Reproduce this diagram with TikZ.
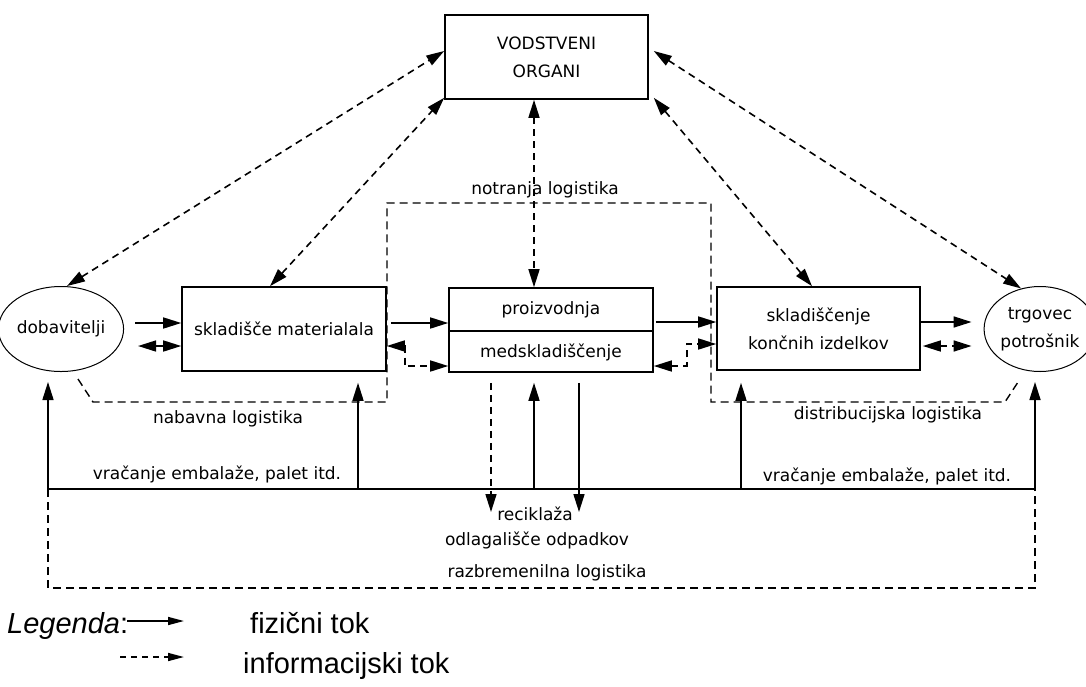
\documentclass[tikz,border=0pt]{standalone}
\usepackage{fontspec}
\setmainfont{DejaVu Sans}
\newfontfamily\legfont{Liberation Sans}
\usetikzlibrary{arrows.meta,shapes.geometric}

\begin{document}
\begin{tikzpicture}[
    x=1pt, y=-1pt,
    >={Triangle[length=18pt,width=11pt]},
    font=\fontsize{17}{28}\selectfont,
    box/.style={rectangle, draw, line width=1.6pt, inner sep=0pt, align=center},
    oval/.style={ellipse, draw, line width=1pt, inner sep=0pt, align=center},
    phys/.style={->, line width=1.6pt},
    info/.style={line width=1.6pt, dash pattern=on 7pt off 5pt},
    zone/.style={line width=1.4pt, dash pattern=on 8pt off 5pt},
    lbl/.style={inner sep=1pt},
    leg/.style={inner sep=0pt, anchor=base west, font=\legfont\fontsize{29}{34}\selectfont},
    legarr/.style={-{Triangle[length=16pt,width=8pt]}, line width=1.6pt}
]
\useasboundingbox (0,0) rectangle (1086,686);

% ---- Nodes (absolute positions, pt) ----
\node[box, minimum width=203pt, minimum height=84pt] (vo)    at (546.5,57)    {VODSTVENI\\ORGANI};
\node[oval, minimum width=102pt, minimum height=85pt] (dob)  at (61,329)      {dobavitelji};
\node[box, minimum width=204pt, minimum height=84pt] (skl)   at (284,329)     {skladišče materialala};
\node[box, minimum width=204pt, minimum height=84pt] (proiz) at (551,330)     {};
\node[lbl] (proizt) at (551,310) {proizvodnja};
\node[lbl] (medsk)  at (551,352) {medskladiščenje};
\node[box, minimum width=203pt, minimum height=83pt] (skon)  at (818.5,328.5) {skladiščenje\\končnih izdelkov};
\node[oval, minimum width=96pt, minimum height=85pt] (trg)   at (1040,329)    {trgovec\\potrošnik};
\draw[line width=1.6pt] ([yshift=-1pt]proiz.west) -- ([yshift=-1pt]proiz.east);

% ---- Links to management ----
\draw[info, <->] ([xshift=6pt]dob.north) -- ([yshift=6pt]vo.west);
\draw[info, <->] ([xshift=-14pt]skl.north) -- ([yshift=2pt]vo.south west);
\draw[info, <->] ([xshift=-12.5pt]vo.south) -- ([xshift=-17pt]proiz.north);
\draw[info, <->] ([xshift=5pt,yshift=2pt]vo.south east) -- ([xshift=-6.5pt]skon.north);
\draw[info, <->] ([xshift=5pt,yshift=6pt]vo.east) -- (trg.115);

% ---- Main chain ----
\draw[phys, shorten <=11pt] ([yshift=6pt]dob.east) -- ([yshift=6pt]skl.west);
\draw[info, <->, shorten <=14pt] ([yshift=-17pt]dob.east) -- ([yshift=-17pt]skl.west);
\draw[phys, shorten <=4pt] ([yshift=6pt]skl.east) -- ([yshift=7pt]proiz.west);
\draw[info, <->] ([yshift=-17pt]skl.east) -- ++(18,0) |- ([yshift=-36pt]proiz.west);
\draw[phys, shorten <=2pt] ([yshift=8pt]proiz.east) -- ([yshift=6.5pt]skon.west);
\draw[info, <->] ([yshift=-36pt]proiz.east) -- ++(33,0) |- ([yshift=-15.5pt]skon.west);
\draw[phys, shorten >=12pt] ([yshift=6.5pt]skon.east) -- ([yshift=7pt]trg.west);
\draw[info, <->, shorten <=2pt, shorten >=12pt] ([yshift=-17.5pt]skon.east) -- ([yshift=-17pt]trg.west);

% ---- Logistics zones ----
\draw[zone] (78,379) -- (93,402) -- (387,402) -- (387,203) -- (711,203)
            -- (711,402) -- (1005,402) -- (1020,379);
\node[lbl] (notr)  at (545,190) {notranja logistika};
\node[lbl] (nab)   at (228,419) {nabavna logistika};
\node[lbl] (distr) at (888,415) {distribucijska logistika};

% ---- Return flows ----
\coordinate (ra) at (48,489);
\coordinate (rb) at (358,489);
\coordinate (rc) at (534,489);
\coordinate (rd) at (741,489);
\coordinate (re) at (1035,489);
\coordinate (ta) at (491,512);
\coordinate (tb) at (579,512);
\coordinate (za) at (48,588);
\coordinate (zb) at (1035,588);
\draw[line width=1.6pt] (ra) -- (re);
\draw[phys, shorten >=10pt] (ra) -- (ra |- dob.south);
\draw[phys, shorten >=11pt] (rb) -- (rb |- skl.south);
\draw[phys, shorten >=10pt] (rc) -- (rc |- proiz.south);
\draw[phys, shorten >=12pt] (rd) -- (rd |- skon.south);
\draw[phys, shorten >=10pt] (re) -- (re |- trg.south);
\draw[info, ->, shorten <=10pt] (ta |- proiz.south) -- (ta);
\draw[phys, shorten <=10pt] (tb |- proiz.south) -- (tb);
\draw[zone] (ra) -- (za) -- (zb) -- (re);
\node[lbl] (vra)   at (217,474) {vračanje embalaže, palet itd.};
\node[lbl] (vrb)   at (887,476) {vračanje embalaže, palet itd.};
\node[lbl] (recik) at (535,514) {reciklaža};
\node[lbl] (odlag) at (537,540) {odlagališče odpadkov};
\node[lbl] (razb)  at (547,573) {razbremenilna logistika};

% ---- Legend ----
\coordinate (la) at (127,621);
\coordinate (lb) at (184,621);
\coordinate (lc) at (120,657);
\coordinate (ld) at (184,657);
\node[leg] (legt) at (7,633)   {\textit{Legenda}:};
\draw[legarr] (la) -- (lb);
\draw[legarr, dash pattern=on 6pt off 5pt] (lc) -- (ld);
\node[leg] (fiz)  at (250,633) {fizični tok};
\node[leg] (inf)  at (243,673) {informacijski tok};

\end{tikzpicture}
\end{document}
